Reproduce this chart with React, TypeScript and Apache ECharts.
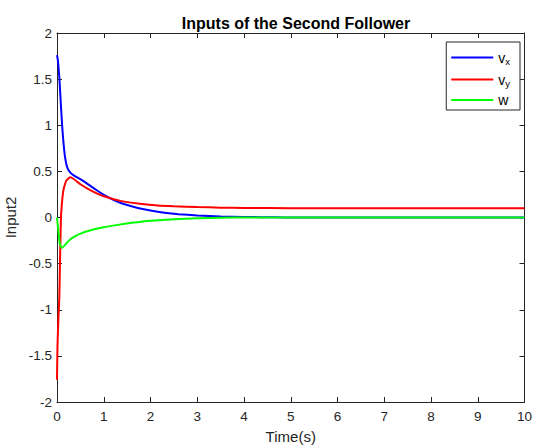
import React, { useEffect, useRef } from "react";
import * as echarts from "echarts";

const timeVx = [0, 0.02, 0.05, 0.08, 0.11, 0.13, 0.17, 0.22, 0.28, 0.35, 0.45, 0.55, 0.65, 0.75, 0.85, 1.0, 1.15, 1.3, 1.5, 1.75, 2.0, 2.3, 2.6, 3.0, 3.5, 4.0, 4.7, 5, 6, 7, 8, 9, 10];
const vx = [1.76, 1.7, 1.52, 1.25, 1.0, 0.86, 0.66, 0.54, 0.49, 0.46, 0.43, 0.4, 0.365, 0.33, 0.295, 0.245, 0.205, 0.17, 0.135, 0.1, 0.075, 0.052, 0.036, 0.022, 0.012, 0.006, 0.002, 0, 0, 0, 0, 0, 0];

const timeVy = [0, 0.01, 0.03, 0.05, 0.065, 0.085, 0.11, 0.135, 0.17, 0.2, 0.28, 0.35, 0.5, 0.7, 0.92, 1.0, 1.35, 1.77, 2.16, 2.5, 3.0, 3.5, 4.0, 5, 6, 7, 8, 9, 10];
const vy = [-1.76, -1.4, -1.1, -0.86, -0.46, 0, 0.18, 0.29, 0.36, 0.4, 0.435, 0.42, 0.36, 0.3, 0.245, 0.23, 0.18, 0.15, 0.13, 0.122, 0.113, 0.107, 0.104, 0.101, 0.1, 0.1, 0.1, 0.1, 0.1];

const timeW = [0, 0.03, 0.06, 0.1, 0.15, 0.2, 0.3, 0.4, 0.5, 0.7, 1.0, 1.3, 1.6, 2.0, 2.5, 3.0, 3.5, 4, 5, 6, 7, 8, 9, 10];
const w = [0, -0.15, -0.28, -0.33, -0.31, -0.28, -0.23, -0.2, -0.175, -0.14, -0.105, -0.08, -0.058, -0.035, -0.018, -0.008, -0.003, 0, 0, 0, 0, 0, 0, 0];

const seriesNames = ["vx", "vy", "w"];
const seriesColors = ["#0000ff", "#ff0000", "#00ff00"];
const titleText = "Inputs of the Second Follower";
const xName = "Time(s)";
const yName = "Input2";

const FONT = "'Liberation Sans', Arial, Helvetica, sans-serif";
const AXIS_COLOR = "#262626";

function pairs(t: number[], v: number[]) {
  return t.map((x, i) => [x, v[i]]);
}

export default function App() {
  const ref = useRef<HTMLDivElement>(null);
  useEffect(() => {
    if (!ref.current) return;
    const chart = echarts.init(ref.current, undefined, { renderer: "svg" });
    const datasets = [pairs(timeVx, vx), pairs(timeVy, vy), pairs(timeW, w)];
    const axisCommon = {
      axisLine: { show: true, onZero: false, lineStyle: { color: AXIS_COLOR, width: 1 } },
      axisTick: { show: true, inside: true, length: 5, lineStyle: { color: AXIS_COLOR, width: 1 } },
      splitLine: { show: false },
    };
    chart.setOption({
      animation: false,
      backgroundColor: "#ffffff",
      title: {
        text: titleText,
        left: 291,
        top: 10,
        textAlign: "center",
        textStyle: { fontFamily: FONT, fontSize: 16, fontWeight: "bold", color: "#000000" },
      },
      grid: { left: 57, top: 33, right: 9.5, bottom: 46, containLabel: false, outerBoundsMode: "none" },
      legend: {
        orient: "vertical",
        right: 14,
        top: 42,
        data: seriesNames,
        icon: "rect",
        itemWidth: 42,
        itemHeight: 2,
        itemGap: 5,
        itemStyle: { borderWidth: 0 },
        padding: [7, 10, 3, 5],
        borderColor: AXIS_COLOR,
        borderWidth: 1,
        borderRadius: 0,
        backgroundColor: "#ffffff",
        formatter: (name: string) => {
          if (name === "vx") return "{v|v}{s|x}";
          if (name === "vy") return "{v|v}{s|y}";
          return "{v|" + name + "}";
        },
        textStyle: {
          fontFamily: FONT,
          fontSize: 14,
          color: "#000000",
          rich: {
            v: { fontFamily: FONT, fontSize: 14, lineHeight: 17, color: "#000000", verticalAlign: "middle" },
            s: { fontFamily: FONT, fontSize: 9.5, lineHeight: 17, color: "#000000", verticalAlign: "bottom", padding: [7, 0, 0, 0] },
          },
        },
      },
      xAxis: [
        {
          type: "value",
          min: 0,
          max: 10,
          interval: 1,
          position: "bottom",
          name: xName,
          nameLocation: "middle",
          nameGap: 27,
          nameTextStyle: { fontFamily: FONT, fontSize: 15, color: AXIS_COLOR },
          axisLabel: { fontFamily: FONT, fontSize: 13.5, color: AXIS_COLOR, margin: 7 },
          ...axisCommon,
        },
        {
          type: "value",
          min: 0,
          max: 10,
          interval: 1,
          position: "top",
          axisLabel: { show: false },
          ...axisCommon,
        },
      ],
      yAxis: [
        {
          type: "value",
          min: -2,
          max: 2,
          interval: 0.5,
          position: "left",
          name: yName,
          nameLocation: "middle",
          nameGap: 36,
          nameRotate: 90,
          nameTextStyle: { fontFamily: FONT, fontSize: 15, color: AXIS_COLOR },
          axisLabel: { fontFamily: FONT, fontSize: 13.5, color: AXIS_COLOR, margin: 5 },
          ...axisCommon,
        },
        {
          type: "value",
          min: -2,
          max: 2,
          interval: 0.5,
          position: "right",
          axisLabel: { show: false },
          ...axisCommon,
        },
      ],
      series: seriesNames.map((name, i) => ({
        name,
        type: "line",
        data: datasets[i],
        xAxisIndex: 0,
        yAxisIndex: 0,
        showSymbol: false,
        symbol: "none",
        smooth: 0.15,
        lineStyle: { color: seriesColors[i], width: 2 },
        itemStyle: { color: seriesColors[i] },
        z: 2 + i,
      })),
    });
    return () => chart.dispose();
  }, []);
  return (
    <div
      ref={ref}
      style={{ position: "fixed", left: 0, top: 0, width: 534, height: 448, background: "#fff" }}
    />
  );
}
